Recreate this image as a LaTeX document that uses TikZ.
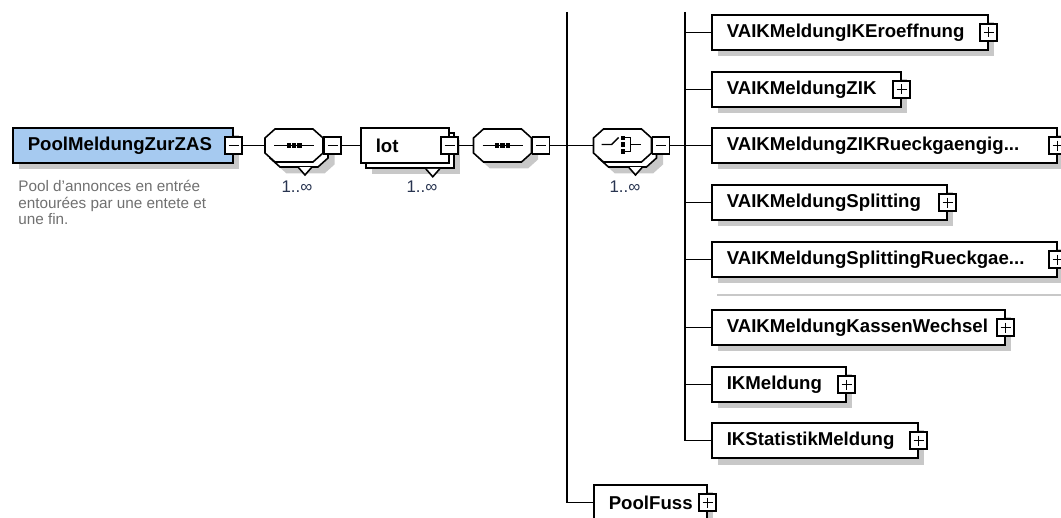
\documentclass[tikz,border=0pt]{standalone}
\usepackage{fontspec}
\setmainfont{Liberation Sans}
\usetikzlibrary{shadows}

\definecolor{elemblue}{RGB}{166,202,240}
\definecolor{docgray}{RGB}{112,112,112}
\definecolor{occurs}{RGB}{40,52,80}
\definecolor{shadowgray}{RGB}{200,200,200}
\definecolor{sepgray}{RGB}{200,200,200}

% octagon outline of a compositor, centred on a point
\newcommand{\xsdoctagon}[2][]{%
  \filldraw[line width=0.9pt, fill=white, #1] (#2) ++(-19,-16.5) -- ++(38,0) -- ++(10,9) -- ++(0,15)
    -- ++(-10,9) -- ++(-38,0) -- ++(-10,-9) -- ++(0,-15) -- cycle;}

\tikzset{
  conn/.style={line width=0.9pt},
  boxshadow/.style={drop shadow={shadow xshift=0.13cm, shadow yshift=-0.13cm, fill=shadowgray, opacity=1}},
  elembase/.style={draw, line width=0.9pt, fill=white, minimum height=0.7cm, inner xsep=0.3cm, inner ysep=0,
    align=left, font=\fontsize{10.6}{12}\selectfont\bfseries},
  elem/.style={elembase, boxshadow, anchor=west},
  octa/.style={minimum width=1.16cm, minimum height=0.66cm, inner sep=0},
  seqsym/.style={path picture={
    \coordinate (pc) at (path picture bounding box.center);
    \draw[line width=0.8pt] (pc) ++(-20,0) -- ++(40,0);
    \fill (pc) ++(-7.5,-2.2) rectangle ++(4.4,4.4);
    \fill (pc) ++(-2.2,-2.2) rectangle ++(4.4,4.4);
    \fill (pc) ++(3.1,-2.2) rectangle ++(4.4,4.4);}},
  choicesym/.style={path picture={
    \coordinate (pc) at (path picture bounding box.center);
    \draw[line width=0.8pt] (pc) ++(-21,-1) -- ++(10,0) -- ++(7,-7);
    \fill (pc) ++(-2,-10) rectangle ++(4.5,4.5);
    \fill (pc) ++(-2,-3.2) rectangle ++(4.5,4.5);
    \fill (pc) ++(-2,3.6) rectangle ++(4.5,4.5);
    \draw[line width=0.8pt] (pc) ++(2,-7.8) -- ++(6,0) -- ++(0,13.6) -- ++(-6,0);
    \draw[line width=0.8pt] (pc) ++(8,-1) -- ++(10,0);}},
  minusicon/.style={draw, line width=0.9pt, fill=white, minimum size=0.34cm, inner sep=0,
    path picture={\draw[line width=0.8pt] (path picture bounding box.center) ++(-5,0) -- ++(10,0);}},
  plusicon/.style={draw, line width=0.9pt, fill=white, minimum size=0.34cm, inner sep=0,
    path picture={\draw[line width=0.8pt] (path picture bounding box.center) ++(-5,0) -- ++(10,0)
      (path picture bounding box.center) ++(0,-5) -- ++(0,10);}},
  occ/.style={font=\fontsize{9.6}{11}\selectfont, text=occurs, inner sep=0},
  desc/.style={font=\fontsize{8.7}{9.4}\selectfont, text=docgray, align=left, inner sep=0}
}

\begin{document}
\begin{tikzpicture}[x=0.02cm, y=-0.02cm]
\useasboundingbox (0,0) rectangle (1061,517);

% Root element with its documentation
\node[elembase, boxshadow, fill=elemblue, text width=3.8cm, anchor=west] (root) at (12,145.5) {PoolMeldungZurZAS};
\node[minusicon] (rootMinus) at (root.east) {};
\node[desc, anchor=north west] (rootDoc) at (18,180) {Pool d'annonces en entrée\\entourées par une entete et\\une fin.};

% First sequence, 1..unbounded
\xsdoctagon[boxshadow]{299,150.5}
\draw[conn, fill=white] (299,167) ++(-1,0) -- ++(7,8) -- ++(7,-8);
\xsdoctagon{294,145.5}
\node[octa, seqsym] (seqA) at (294,145.5) {};
\node[minusicon, anchor=west] (seqAMinus) at (seqA.east) {};
\node[occ] (seqAOcc) at (297,187) {1..∞};

% Element lot, 1..unbounded
\node[elem, text width=1.16cm] (lotBack) at (365,150.5) {};
\draw[conn, fill=white] (lotBack.south) ++(16,0) -- ++(7,8) -- ++(7,-8);
\node[elembase, text width=1.16cm, anchor=west] (lot) at (360,145.5) {lot};
\node[minusicon] (lotMinus) at (lot.east) {};
\node[occ] (lotOcc) at (422,187) {1..∞};

% Second sequence
\xsdoctagon[boxshadow]{502.5,145.5}
\node[octa, seqsym] (seqB) at (502.5,145.5) {};
\node[minusicon, anchor=west] (seqBMinus) at (seqB.east) {};

% Choice, 1..unbounded
\xsdoctagon[boxshadow]{627.5,150.5}
\draw[conn, fill=white] (627.5,167) ++(1,0) -- ++(7,8) -- ++(7,-8);
\xsdoctagon{622.5,145.5}
\node[octa, choicesym] (choice) at (622.5,145.5) {};
\node[minusicon, anchor=west] (choiceMinus) at (choice.east) {};
\node[occ] (choiceOcc) at (625,187) {1..∞};

% Children of the choice
\node[elem, text width=4.92cm] (eroeff) at (711,32.5) {VAIKMeldungIKEroeffnung};
\node[plusicon] (eroeffPlus) at (eroeff.east) {};
\node[elem, text width=3.18cm] (zik) at (711,89.5) {VAIKMeldungZIK};
\node[plusicon] (zikPlus) at (zik.east) {};
\node[elem, text width=6.3cm] (zikRueck) at (711,145.5) {VAIKMeldungZIKRueckgaengig...};
\node[plusicon] (zikRueckPlus) at (zikRueck.east) {};
\node[elem, text width=4.1cm] (split) at (711,202.5) {VAIKMeldungSplitting};
\node[plusicon] (splitPlus) at (split.east) {};
\node[elem, text width=6.3cm] (splitRueck) at (711,259.5) {VAIKMeldungSplittingRueckgae...};
\node[plusicon] (splitRueckPlus) at (splitRueck.east) {};

% Separator
\draw[line width=1.1pt, sepgray] (717,295) -- (1061,295);

\node[elem, text width=5.26cm] (kassen) at (711,327.5) {VAIKMeldungKassenWechsel};
\node[plusicon] (kassenPlus) at (kassen.east) {};
\node[elem, text width=2.08cm] (ikm) at (711,384.5) {IKMeldung};
\node[plusicon] (ikmPlus) at (ikm.east) {};
\node[elem, text width=3.52cm] (ikStat) at (711,440.5) {IKStatistikMeldung};
\node[plusicon] (ikStatPlus) at (ikStat.east) {};

% Footer element
\node[elem, text width=1.66cm] (poolFuss) at (593,502.5) {PoolFuss};
\node[plusicon] (poolFussPlus) at (poolFuss.east) {};

% Connectors
\coordinate (busA) at (567,12);
\coordinate (busB) at (685,12);
\draw[conn] (rootMinus.east) -- (seqA.west);
\draw[conn] (seqAMinus.east) -- (lot.west);
\draw[conn] (lotMinus.east) -- (seqB.west);
\draw[conn] (seqBMinus.east) -- (choice.west);
\draw[conn] (busA) |- (poolFuss.west);
\draw[conn] (choiceMinus.east) -- (busB |- choiceMinus.east);
\draw[conn] (busB) |- (ikStat.west);
\foreach \child in {eroeff,zik,zikRueck,split,splitRueck,kassen,ikm}
  \draw[conn] (busB |- \child.west) -- (\child.west);

\end{tikzpicture}
\end{document}
